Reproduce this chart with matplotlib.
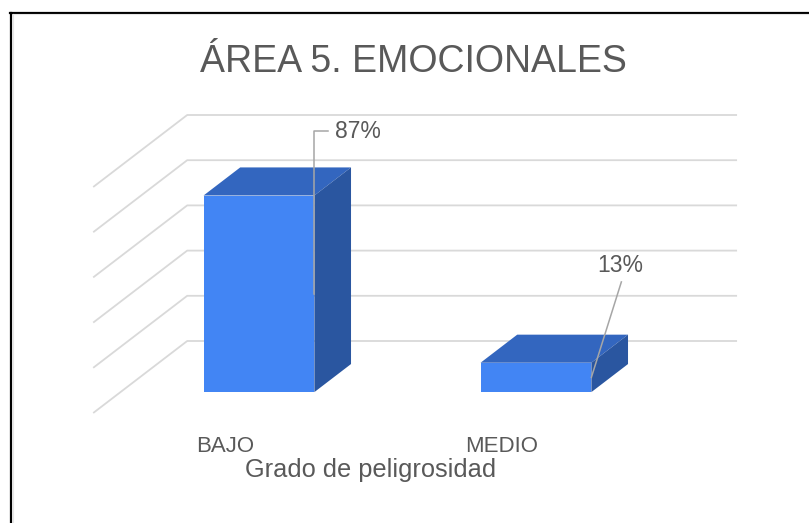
import matplotlib.pyplot as plt
from matplotlib.patches import Polygon
from matplotlib.lines import Line2D

plt.rcParams['font.family'] = ['Liberation Sans', 'DejaVu Sans']

# Data
categories = ['BAJO', 'MEDIO']
percent = [87, 13]
value_labels = ['87%', '13%']
grid_ticks = [0, 20, 40, 60, 80, 100]
title = 'ÁREA 5. EMOCIONALES'
xlabel = 'Grado de peligrosidad'

# Layout (pixels on the 809x523 canvas)
W, H = 809, 523
X0, CAT_PX = 231.7, 277.0      # category 0 at front of floor, px per category
Y0, PCT_PX = 413.0, 2.26       # 0% at front of floor, px per percent
DEPTH_DX = 94 / CAT_PX         # one full depth step, in category units
DEPTH_DY = 72 / PCT_PX         # one full depth step, in percent units
BAR_W = 0.4
BAR_D0, BAR_D1 = 0.29, 0.68

# Colours
text_c = '#595959'
grid_c = '#d9d9d9'
lead_c = '#a6a6a6'
front_c = '#4285f4'
top_c = '#3366bf'
side_c = '#2a56a0'

# label leaders, offsets in px from the bar edge midpoint
lead_end = [(14, 162.5), (30, 95.5)]
text_off = [(21, 162.5), (28.5, 112)]
text_ha = ['left', 'center']
elbow = [True, False]


def proj(c, v, d):
    # oblique projection of (category, value, depth) onto the axes
    return c + d * DEPTH_DX, v + d * DEPTH_DY


fig = plt.figure(figsize=(W / 100, H / 100), dpi=100)
ax = fig.add_axes([0, 0, 1, 1])
ax.set_xlim(-X0 / CAT_PX, (W - X0) / CAT_PX)
ax.set_ylim((Y0 - H) / PCT_PX, Y0 / PCT_PX)
ax.axis('off')

# walls
c_lo, c_hi = -0.5, len(categories) - 0.515
for t in grid_ticks:
    a = proj(c_lo, t, 0)
    b = proj(c_lo, t, 1)
    c = proj(c_hi, t, 1)
    ax.plot([a[0], b[0], c[0]], [a[1], b[1], c[1]], color=grid_c, lw=1.3,
            solid_capstyle='butt', zorder=1)

# bars
for i, v in enumerate(percent):
    x_front, y_front = proj(i, 0, BAR_D0)
    ax.bar(x_front, v, width=BAR_W, bottom=y_front, color=front_c, zorder=3)
    l, r = i - BAR_W / 2, i + BAR_W / 2
    top = [proj(l, v, BAR_D0), proj(r, v, BAR_D0), proj(r, v, BAR_D1), proj(l, v, BAR_D1)]
    side = [proj(r, 0, BAR_D0), proj(r, 0, BAR_D1), proj(r, v, BAR_D1), proj(r, v, BAR_D0)]
    ax.add_patch(Polygon(top, closed=True, fc=top_c, ec='none', zorder=3))
    ax.add_patch(Polygon(side, closed=True, fc=side_c, ec='none', zorder=3))

    # value label with leader line
    ax_, ay_ = proj(r, v / 2, BAR_D0)
    ex = ax_ + lead_end[i][0] / CAT_PX
    ey = ay_ + lead_end[i][1] / PCT_PX
    if elbow[i]:
        xs, ys = [ax_, ax_, ex], [ay_, ey, ey]
    else:
        xs, ys = [ax_, ex], [ay_, ey]
    ax.plot(xs, ys, color=lead_c, lw=1.1, zorder=4)
    ax.text(ax_ + text_off[i][0] / CAT_PX, ay_ + text_off[i][1] / PCT_PX,
            value_labels[i], ha=text_ha[i], va='center', fontsize=16.5,
            color=text_c, zorder=5)

# category labels
for i, cat in enumerate(categories):
    ax.text(i - 0.025, -17.3, cat, ha='center', va='baseline',
            fontsize=16, color=text_c)

ax.text(0.5, -28.3, xlabel, ha='center', va='baseline',
        fontsize=18.3, color=text_c)

fig.text(0.511, 1 - 72 / H, title, ha='center', va='baseline',
         fontsize=27, color=text_c)

# outer frame (top and left edges visible)
fig.add_artist(Line2D([10 / W, 1], [1 - 12.5 / H] * 2, color='black', lw=1.6))
fig.add_artist(Line2D([11 / W] * 2, [0, 1 - 12.5 / H], color='black', lw=1.6))
fig.add_artist(Line2D([12.5 / W, 1], [1 - 14 / H] * 2, color='#e6e6e6', lw=0.8))
fig.add_artist(Line2D([12.5 / W] * 2, [0, 1 - 14 / H], color='#e6e6e6', lw=0.8))

fig.savefig('out.png', dpi=100, facecolor='white')
